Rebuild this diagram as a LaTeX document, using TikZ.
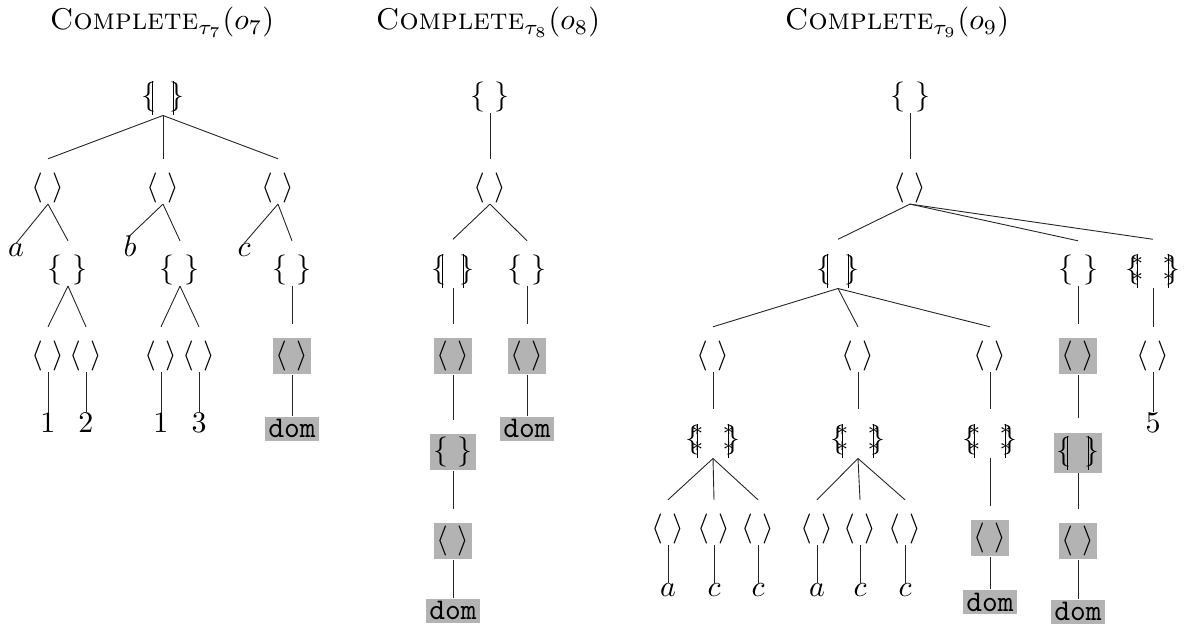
\documentclass[tikz,border=0pt]{standalone}
\usepackage{amsmath}
\definecolor{hlgray}{HTML}{B3B3B3}
% bag / list / tuple delimiters
\newcommand\vb{\vrule height 8pt depth 3.3pt width 0.4pt}
\newcommand\starbar{\makebox[0pt]{\vb}\makebox[0pt]{\raisebox{4.1pt}{$\scriptstyle\ast$}}\makebox[0pt]{\raisebox{-1.1pt}{$\scriptstyle\ast$}}}
\newcommand\Bag{$\{\kern-1.5pt\vb\hspace{6.5pt}\vb\kern-1.5pt\}$}
\newcommand\SetT{$\{\,\,\}$}
\newcommand\Tup{$\langle\hspace{3.2pt}\rangle$}
\newcommand\Lst{$\{\kern-1.1pt\starbar\kern10.5pt\starbar\kern-1.1pt\}$}
\newcommand\Dom{\texttt{dom}}
% connectors: to an inner node (with a small gap) and to a leaf
\newcommand\tedge[2]{\draw[edge] (#1.south) -- ([yshift=4.7pt]#2.north);}
\newcommand\ledge[2]{\draw[edge] (#1.south) -- (#2.north);}
\tikzset{
  sym/.style={inner sep=0pt, anchor=base},
  hl/.style={fill=hlgray, inner sep=1pt, anchor=base},
  leaf/.style={inner sep=0pt, anchor=base},
  edge/.style={line width=0.3pt, draw=black!85},
}
\begin{document}
\begin{tikzpicture}[x=0.3333pt,y=-0.3333pt]
\useasboundingbox (0,0) rectangle (1189,630);

% ---------------- titles
\node[anchor=base] (ti1) at (162,30) {\textsc{Complete}$_{\tau_7}(o_7)$};
\node[anchor=base] (ti2) at (488,30) {\textsc{Complete}$_{\tau_8}(o_8)$};
\node[anchor=base] (ti3) at (897,30) {\textsc{Complete}$_{\tau_9}(o_9)$};

% ---------------- first tree
\node[sym] (a0) at (163,105) {\Bag};
\node[sym] (a1) at (48,196) {\Tup};
\node[sym] (a2) at (163,196) {\Tup};
\node[sym] (a3) at (278,196) {\Tup};
\node[leaf] (a1x) at (16,257) {$a$};
\node[sym] (a1s) at (68,278) {\SetT};
\node[leaf] (a2x) at (130,257) {$b$};
\node[sym] (a2s) at (180,278) {\SetT};
\node[leaf] (a3x) at (244,257) {$c$};
\node[sym] (a3s) at (292,278) {\SetT};
\node[sym] (a1p) at (48,364) {\Tup};
\node[sym] (a1q) at (86,364) {\Tup};
\node[sym] (a2p) at (161,364) {\Tup};
\node[sym] (a2q) at (199,364) {\Tup};
\node[hl]  (a3p) at (292,364) {\Tup};
\node[leaf] (a1pl) at (48,433) {1};
\node[leaf] (a1ql) at (86,433) {2};
\node[leaf] (a2pl) at (161,433) {1};
\node[leaf] (a2ql) at (199,433) {3};
\node[hl]  (a3pl) at (292,438) {\Dom};
\tedge{a0}{a1} \tedge{a0}{a2} \tedge{a0}{a3}
\ledge{a1}{a1x} \tedge{a1}{a1s}
\ledge{a2}{a2x} \tedge{a2}{a2s}
\ledge{a3}{a3x} \tedge{a3}{a3s}
\tedge{a1s}{a1p} \tedge{a1s}{a1q}
\tedge{a2s}{a2p} \tedge{a2s}{a2q}
\tedge{a3s}{a3p}
\ledge{a1p}{a1pl} \ledge{a1q}{a1ql}
\ledge{a2p}{a2pl} \ledge{a2q}{a2ql}
\ledge{a3p}{a3pl}

% ---------------- second tree
\node[sym] (b0) at (490,105) {\SetT};
\node[sym] (b1) at (490,196) {\Tup};
\node[sym] (b2) at (453,278) {\Bag};
\node[sym] (b3) at (527,278) {\SetT};
\node[hl]  (b2a) at (453,364) {\Tup};
\node[hl]  (b2b) at (453,460) {\SetT};
\node[hl]  (b2c) at (453,549) {\Tup};
\node[hl]  (b2d) at (453,620) {\Dom};
\node[hl]  (b3a) at (527,364) {\Tup};
\node[hl]  (b3b) at (527,438) {\Dom};
\tedge{b0}{b1}
\tedge{b1}{b2} \tedge{b1}{b3}
\tedge{b2}{b2a} \tedge{b2a}{b2b} \tedge{b2b}{b2c} \ledge{b2c}{b2d}
\tedge{b3}{b3a} \ledge{b3a}{b3b}

% ---------------- third tree
\node[sym] (c0) at (910,105) {\SetT};
\node[sym] (c1) at (910,196) {\Tup};
\node[sym] (c2) at (838,278) {\Bag};
\node[sym] (c3) at (1078,278) {\SetT};
\node[sym] (c4) at (1153,278) {\Lst};
\node[sym] (c21) at (713,364) {\Tup};
\node[sym] (c22) at (858,364) {\Tup};
\node[sym] (c23) at (990,364) {\Tup};
\node[sym] (c21s) at (713,448) {\Lst};
\node[sym] (c22s) at (858,448) {\Lst};
\node[sym] (c23s) at (990,448) {\Lst};
\node[sym] (d1) at (668,537) {\Tup};
\node[sym] (d2) at (714,537) {\Tup};
\node[sym] (d3) at (758,537) {\Tup};
\node[sym] (e1) at (817,537) {\Tup};
\node[sym] (e2) at (860,537) {\Tup};
\node[sym] (e3) at (905,537) {\Tup};
\node[hl]  (f1) at (990,546) {\Tup};
\node[leaf] (d1l) at (668,597) {$a$};
\node[leaf] (d2l) at (714,597) {$c$};
\node[leaf] (d3l) at (758,597) {$c$};
\node[leaf] (e1l) at (817,597) {$a$};
\node[leaf] (e2l) at (860,597) {$c$};
\node[leaf] (e3l) at (905,597) {$c$};
\node[hl]  (f1l) at (990,611) {\Dom};
\node[hl]  (c3a) at (1078,364) {\Tup};
\node[hl]  (c3b) at (1078,460) {\Bag};
\node[hl]  (c3c) at (1078,549) {\Tup};
\node[hl]  (c3d) at (1078,621) {\Dom};
\node[sym] (c4a) at (1153,364) {\Tup};
\node[leaf] (c4l) at (1153,433) {5};
\tedge{c0}{c1}
\tedge{c1}{c2} \tedge{c1}{c3} \tedge{c1}{c4}
\tedge{c2}{c21} \tedge{c2}{c22} \tedge{c2}{c23}
\tedge{c21}{c21s} \tedge{c22}{c22s} \tedge{c23}{c23s}
\tedge{c21s}{d1} \tedge{c21s}{d2} \tedge{c21s}{d3}
\tedge{c22s}{e1} \tedge{c22s}{e2} \tedge{c22s}{e3}
\tedge{c23s}{f1}
\ledge{d1}{d1l} \ledge{d2}{d2l} \ledge{d3}{d3l}
\ledge{e1}{e1l} \ledge{e2}{e2l} \ledge{e3}{e3l}
\ledge{f1}{f1l}
\tedge{c3}{c3a} \tedge{c3a}{c3b} \tedge{c3b}{c3c} \ledge{c3c}{c3d}
\tedge{c4}{c4a} \ledge{c4a}{c4l}
\end{tikzpicture}
\end{document}
